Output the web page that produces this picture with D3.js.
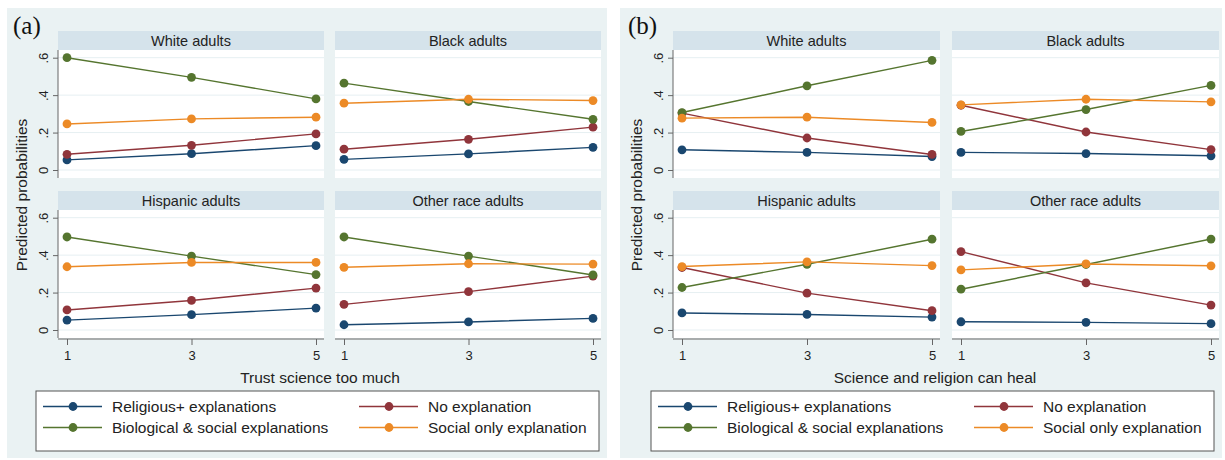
<!DOCTYPE html>
<html>
<head>
<meta charset="utf-8">
<script src="https://cdn.jsdelivr.net/npm/d3@7"></script>
<style>
  body { margin: 0; background: #ffffff; }
  svg { display: block; font-family: "Liberation Sans", Arial, sans-serif; }
</style>
</head>
<body>
<svg id="chart"></svg>
<script>
var width = 1225;
var height = 460;

var groups = ['White adults', 'Black adults', 'Hispanic adults', 'Other race adults'];
var seriesNames = ['Religious+ explanations', 'No explanation', 'Biological & social explanations', 'Social only explanation'];
var seriesColors = ['#1a476f', '#90353b', '#55752f', '#ec8a26'];
var xValues = [1, 3, 5];
var yTicks = [0, 0.2, 0.4, 0.6];
var yTickLabels = ['0', '.2', '.4', '.6'];

// (a) trust science too much, one row per group, values at x = 1, 3, 5
var trustReligious = [[0.054, 0.087, 0.130], [0.057, 0.086, 0.121], [0.053, 0.082, 0.117], [0.028, 0.043, 0.062]];
var trustNone      = [[0.084, 0.132, 0.193], [0.111, 0.164, 0.229], [0.107, 0.158, 0.224], [0.137, 0.205, 0.288]];
var trustBioSocial = [[0.600, 0.495, 0.380], [0.464, 0.366, 0.271], [0.497, 0.395, 0.296], [0.497, 0.395, 0.294]];
var trustSocial    = [[0.246, 0.273, 0.282], [0.357, 0.378, 0.371], [0.338, 0.361, 0.361], [0.335, 0.354, 0.352]];

// (b) science and religion can heal
var healReligious = [[0.108, 0.094, 0.072], [0.094, 0.088, 0.076], [0.091, 0.083, 0.069], [0.044, 0.041, 0.034]];
var healNone      = [[0.304, 0.171, 0.083], [0.346, 0.203, 0.109], [0.334, 0.197, 0.103], [0.419, 0.252, 0.133]];
var healBioSocial = [[0.307, 0.450, 0.586], [0.206, 0.323, 0.452], [0.227, 0.351, 0.485], [0.218, 0.350, 0.486]];
var healSocial    = [[0.277, 0.282, 0.254], [0.348, 0.378, 0.364], [0.339, 0.364, 0.344], [0.321, 0.353, 0.343]];

var charts = [
    {label: '(a)', xTitle: 'Trust science too much', ox: 0, bgX: 7, bgW: 600, colW: 266, col2: 335,
     series: [trustReligious, trustNone, trustBioSocial, trustSocial]},
    {label: '(b)', xTitle: 'Science and religion can heal', ox: 615, bgX: 620, bgW: 602, colW: 267, col2: 952,
     series: [healReligious, healNone, healBioSocial, healSocial]}
];

var plotTops = [50, 210];
var plotH = 128;
var headerH = 19;

var svg = d3.select('#chart')
  .attr('width', width)
  .attr('height', height);

function drawChart (c) {
    var g = svg.append('g');

    g.append('rect')
      .attr('x', c.bgX).attr('y', 8)
      .attr('width', c.bgW).attr('height', 450)
      .attr('fill', '#eaf2f3');

    g.append('text')
      .attr('x', c.ox + 13).attr('y', 34)
      .style('font-family', '"Liberation Serif", "Times New Roman", serif')
      .style('font-size', '25px')
      .attr('fill', '#111')
      .text(c.label);

    var cols = [c.ox + 58, c.col2];

    groups.forEach(function (name, gi) {
        var row = Math.floor(gi / 2);
        var col = gi % 2;
        var x0 = cols[col];
        var top = plotTops[row];
        var bottom = top + plotH;

        var x = d3.scaleLinear().domain([1, 5]).range([x0 + 9, x0 + c.colW - 8]);
        var y = d3.scaleLinear().domain([0, 0.6]).range([bottom - 8, top + 7.7]);

        // strip header
        g.append('rect')
          .attr('x', x0).attr('y', top - headerH)
          .attr('width', c.colW).attr('height', headerH)
          .attr('fill', '#d5e3eb');
        g.append('text')
          .attr('x', x0 + c.colW / 2).attr('y', top - headerH / 2)
          .attr('text-anchor', 'middle')
          .attr('dominant-baseline', 'central')
          .style('font-size', '14.5px')
          .attr('fill', '#222')
          .text(name);

        // plot region
        g.append('rect')
          .attr('x', x0).attr('y', top)
          .attr('width', c.colW).attr('height', plotH)
          .attr('fill', '#ffffff');

        g.selectAll(null).data(yTicks).enter().append('line')
          .attr('x1', x0).attr('x2', x0 + c.colW)
          .attr('y1', function (d) { return y(d); })
          .attr('y2', function (d) { return y(d); })
          .attr('stroke', '#e6eff2')
          .attr('stroke-width', 1);

        if (col === 0) {
            var yAxis = d3.axisLeft(y).tickValues(yTicks).tickSize(5)
              .tickFormat(function (d, i) { return yTickLabels[i]; });
            var ya = g.append('g')
              .attr('transform', 'translate(' + x0 + ',0)')
              .call(yAxis);
            ya.select('.domain').attr('d', 'M0,' + top + 'V' + bottom).attr('stroke', '#666');
            ya.selectAll('.tick line').attr('stroke', '#666');
            ya.selectAll('.tick text')
              .attr('x', null).attr('dy', null)
              .attr('transform', 'translate(-15,0) rotate(-90)')
              .attr('text-anchor', 'middle')
              .attr('dominant-baseline', 'central')
              .style('font-size', '13px')
              .style('font-family', '"Liberation Sans", Arial, sans-serif')
              .attr('fill', '#222');
        }

        if (row === 1) {
            var xAxis = d3.axisBottom(x).tickValues(xValues).tickSize(6).tickFormat(d3.format('d'));
            var xa = g.append('g')
              .attr('transform', 'translate(0,' + (bottom + 1) + ')')
              .call(xAxis);
            xa.select('.domain').attr('d', 'M' + x0 + ',0H' + (x0 + c.colW)).attr('stroke', '#666');
            xa.selectAll('.tick line').attr('stroke', '#666');
            xa.selectAll('.tick text')
              .attr('y', 16).attr('dy', '0.35em')
              .style('font-size', '13px')
              .style('font-family', '"Liberation Sans", Arial, sans-serif')
              .attr('fill', '#222');
        }

        var line = d3.line()
          .x(function (d, i) { return x(xValues[i]); })
          .y(function (d) { return y(d); });

        c.series.forEach(function (s, si) {
            var vals = s[gi];
            g.append('path')
              .attr('d', line(vals))
              .attr('fill', 'none')
              .attr('stroke', seriesColors[si])
              .attr('stroke-width', 1.4);
            g.selectAll(null).data(vals).enter().append('circle')
              .attr('cx', function (d, i) { return x(xValues[i]); })
              .attr('cy', function (d) { return y(d); })
              .attr('r', 4.4)
              .attr('fill', seriesColors[si]);
        });
    });

    // axis titles
    g.append('text')
      .attr('transform', 'translate(' + (c.ox + 21) + ',195) rotate(-90)')
      .attr('text-anchor', 'middle')
      .attr('dominant-baseline', 'central')
      .style('font-size', '15.5px')
      .attr('fill', '#222')
      .text('Predicted probabilities');

    g.append('text')
      .attr('x', c.ox + 320).attr('y', 377)
      .attr('text-anchor', 'middle')
      .attr('dominant-baseline', 'central')
      .style('font-size', '15.5px')
      .attr('fill', '#222')
      .text(c.xTitle);

    // legend
    var lx = c.ox + 36;
    g.append('rect')
      .attr('x', lx).attr('y', 391)
      .attr('width', 563).attr('height', 60)
      .attr('fill', '#ffffff')
      .attr('stroke', '#555')
      .attr('stroke-width', 1);

    var items = g.selectAll('g.legend-item').data(seriesNames).enter().append('g')
      .attr('class', 'legend-item')
      .attr('transform', function (d, i) {
          return 'translate(' + (lx + (i % 2) * 316) + ',' + (406.5 + Math.floor(i / 2) * 21) + ')';
      });
    items.append('line')
      .attr('x1', 7).attr('x2', 66)
      .attr('stroke', function (d, i) { return seriesColors[i]; })
      .attr('stroke-width', 1.4);
    items.append('circle')
      .attr('cx', 37).attr('r', 4.4)
      .attr('fill', function (d, i) { return seriesColors[i]; });
    items.append('text')
      .attr('x', 76)
      .attr('dominant-baseline', 'central')
      .style('font-size', '15.5px')
      .attr('fill', '#222')
      .text(function (d) { return d; });
}

charts.forEach(drawChart);
</script>
</body>
</html>
